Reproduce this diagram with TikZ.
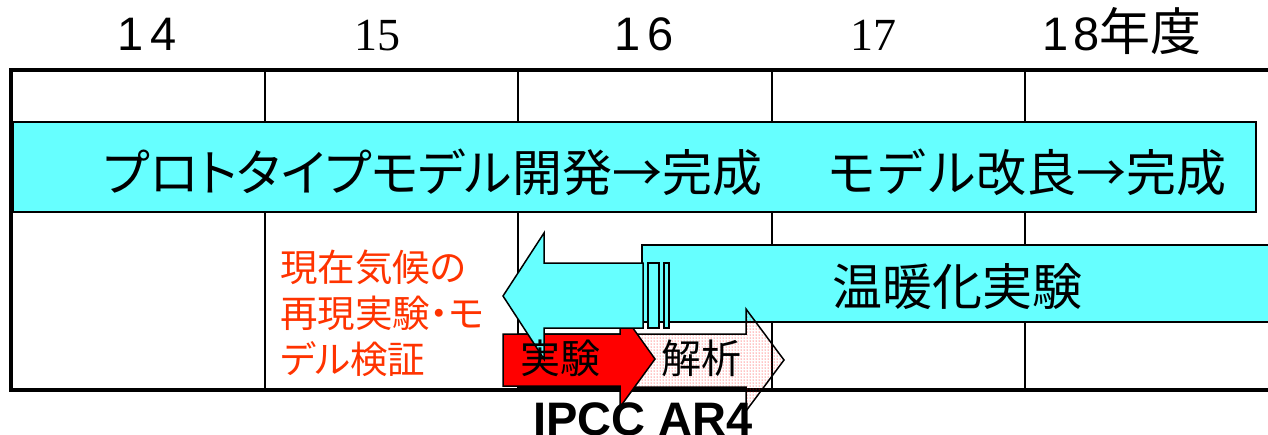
\documentclass[tikz,border=0pt]{standalone}
\usepackage{fontspec}
\setmainfont{Liberation Sans}
\newfontfamily\jpfont{Noto Sans CJK JP}
\newfontfamily\jppfont[RawFeature=+palt]{Noto Sans CJK JP}
\newfontfamily\numserif{Liberation Serif}
\usetikzlibrary{patterns}
\definecolor{barcyan}{RGB}{102,255,255}
\definecolor{notered}{RGB}{255,51,0}
\begin{document}
\begin{tikzpicture}[x=1pt,y=-1pt,
  gridthin/.style={line width=1.8pt},
  gridthick/.style={line width=4pt},
  barbox/.style={fill=barcyan,draw=black,line width=1.5pt},
  shapeline/.style={draw=black,line width=1.5pt,line join=miter},
  yearsans/.style={font=\fontsize{47}{47}\selectfont,inner sep=0,anchor=base},
  yearserif/.style={font=\numserif\fontsize{46}{46}\selectfont,inner sep=0,anchor=base},
  bigtext/.style={font=\jpfont\fontsize{50}{50}\selectfont,inner sep=0},
  arrowtext/.style={font=\jpfont\fontsize{40}{40}\selectfont,inner sep=0},
  notetext/.style={font=\jpfont\fontsize{37.5}{46}\selectfont,inner sep=0,text=notered,align=left,anchor=north west}]
\useasboundingbox (0,0) rectangle (1268,434);
% column lines
\foreach \cx in {265,518,772,1025} \draw[gridthin] (\cx,70) -- (\cx,390);
% bars
\path[barbox] (13,122) rectangle (1256,212);
\path[barbox] (642,245) rectangle (1275,322);
% outer border
\draw[gridthick] (11,70) -- (1270,70);
\draw[gridthick] (11,68) -- (11,392);
\draw[gridthick] (9,390) -- (1270,390);
% dotted arrow (analysis)
\path[pattern=dots,pattern color=red] (518,334) -- (746,334) -- (746,309) -- (784,360) -- (746,411) -- (746,387) -- (518,387) -- cycle;
\draw[line width=1.5pt] (518,334) -- (746,334) -- (746,309) -- (784,360) -- (746,411) -- (746,387) -- (518,387) -- cycle;
% red arrow (experiment)
\path[fill=red,shapeline] (503,334) -- (620,334) -- (620,310) -- (655,359) -- (620,407) -- (620,386) -- (503,386) -- cycle;
% cyan left arrow with stripes
\path[fill=barcyan,shapeline] (503,296) -- (544,233) -- (544,263) -- (643,263) -- (643,328) -- (544,328) -- (544,359) -- cycle;
\path[fill=barcyan,shapeline] (648,263) rectangle (659,328);
\path[fill=barcyan,shapeline] (664,263) rectangle (669,328);
% header
\node[yearsans] (y14) at (147,50) {1\kern7pt 4};
\node[yearserif] (y15) at (377,50) {15};
\node[yearsans] (y16) at (644,50) {1\kern7pt 6};
\node[yearserif] (y17) at (873,50) {17};
\node[yearsans] (y18) at (1122,50) {1\kern5pt 8{\jpfont\fontsize{51}{51}\selectfont 年度}};
% bar texts
\node[bigtext,font=\jppfont\fontsize{50}{50}\selectfont] (proto) at (433,172) {プロトタイプモデル開発→完成};
\node[bigtext] (improve) at (1026,172) {モデル改良→完成};
\node[bigtext] (warm) at (957,287) {温暖化実験};
% note
\node[notetext,font=\jppfont\fontsize{37.5}{46}\selectfont] (note) at (280,250) {現在気候の\\再現実験・モ\\デル検証};
% arrow labels
\node[arrowtext] (exp) at (560,358) {実験};
\node[arrowtext] (ana) at (701,358) {解析};
\node[font=\fontsize{47}{47}\selectfont\bfseries,inner sep=0,anchor=north] (ipcc) at (643,402) {IPCC AR4};
\end{tikzpicture}
\end{document}
